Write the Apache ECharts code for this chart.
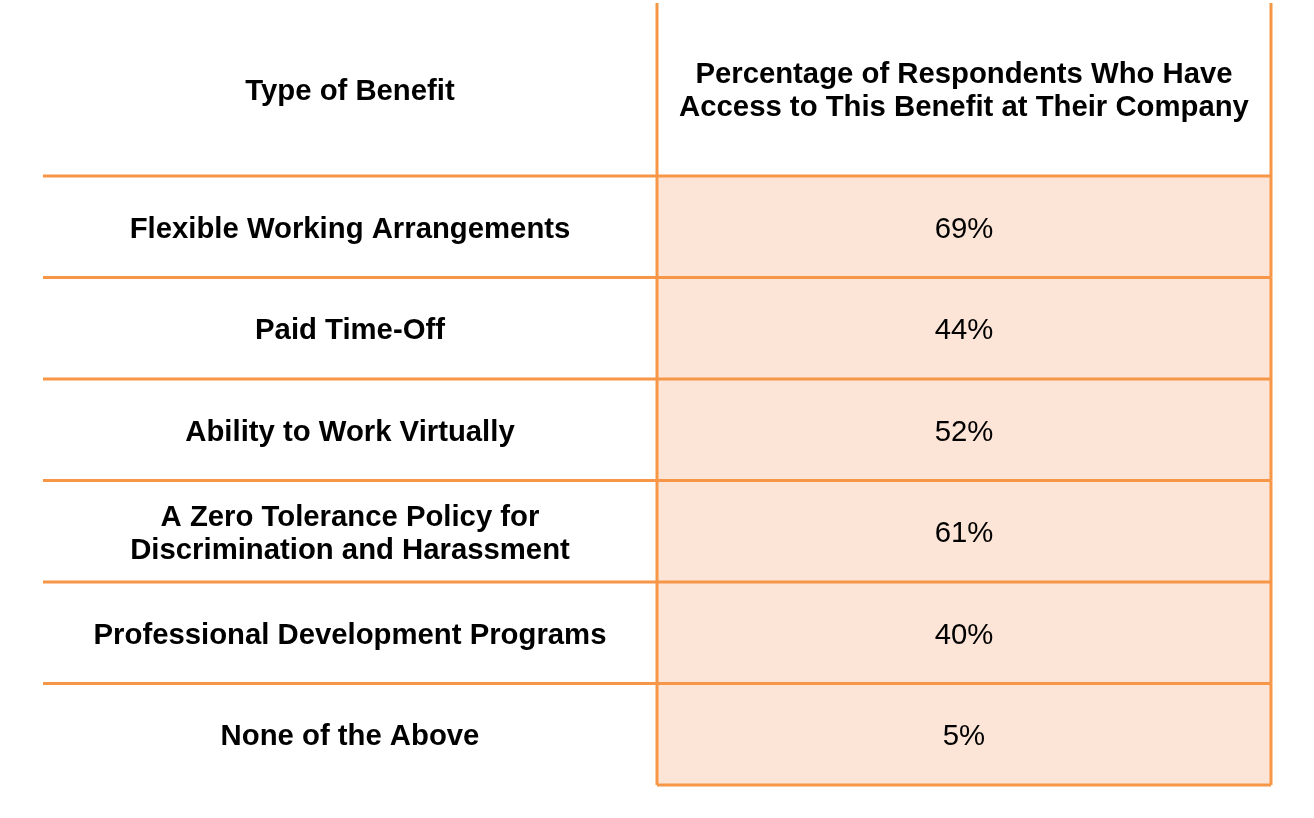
<!DOCTYPE html>
<html>
<head>
<meta charset="utf-8">
<title>Benefits table</title>
<script src="https://cdn.jsdelivr.net/npm/echarts@6/dist/echarts.min.js"></script>
<style>
  html, body { margin: 0; padding: 0; background: #ffffff; }
  #chart { width: 1314px; height: 818px; }
</style>
</head>
<body>
<div id="chart"></div>
<script>
const columns = ['benefit', 'share'];
const headers = [
    'Type of Benefit',
    'Percentage of Respondents Who Have\nAccess to This Benefit at Their Company'
];
const benefits = [
    'Flexible Working Arrangements',
    'Paid Time-Off',
    'Ability to Work Virtually',
    'A Zero Tolerance Policy for\nDiscrimination and Harassment',
    'Professional Development Programs',
    'None of the Above'
];
const shares = [69, 44, 52, 61, 40, 5];

const ORANGE = '#F79646';
const PEACH = '#FCE4D6';
const FONT = '"Liberation Sans", Arial, Helvetica, sans-serif';

const chart = echarts.init(document.getElementById('chart'));

function line(x1, y1, x2, y2) {
    return {
        type: 'line',
        shape: { x1: x1, y1: y1, x2: x2, y2: y2 },
        style: { stroke: ORANGE, lineWidth: 3 },
        z2: 10
    };
}

function cellText(text, x, y, bold) {
    return {
        type: 'text',
        z2: 20,
        style: {
            text: text,
            x: x,
            y: y,
            align: 'center',
            verticalAlign: 'middle',
            fontFamily: FONT,
            fontSize: 29.3,
            fontWeight: bold ? 'bold' : 'normal',
            lineHeight: 33,
            fill: '#000000'
        }
    };
}

// header row: right cell has side borders only
function renderHeader(params, api) {
    const col = api.value(0);
    const c = api.coord([col, api.value(1)]);
    const s = api.size([1, 1]);
    const x0 = c[0] - s[0] / 2, y0 = c[1] - s[1] / 2;
    const children = [cellText(api.value(2), c[0], c[1] + 2, true)];
    if (col === 1) {
        children.push(line(x0, y0, x0, y0 + s[1]));
        children.push(line(x0 + s[0], y0, x0 + s[0], y0 + s[1]));
    }
    return { type: 'group', children: children };
}

// body rows
function renderBody(params, api) {
    const col = api.value(0);
    const row = api.value(1);
    const c = api.coord([col, row]);
    const s = api.size([1, 1]);
    const x0 = c[0] - s[0] / 2, y0 = c[1] - s[1] / 2;
    const x1 = x0 + s[0], y1 = y0 + s[1];
    const children = [{
        type: 'rect',
        shape: { x: x0, y: y0, width: s[0], height: s[1] },
        style: { fill: col === 1 ? PEACH : '#ffffff' }
    }];
    if (row === 0) children.push(line(x0, y0, x1, y0));
    if (col === 1 || row < benefits.length - 1) children.push(line(x0, y1, x1, y1));
    if (col === 1) {
        children.push(line(x0, y0, x0, y1));
        children.push(line(x1, y0, x1, y1));
    }
    children.push(cellText(api.value(2), c[0], c[1] + 3, col === 0));
    return { type: 'group', children: children };
}

const headerData = headers.map(function (h, i) { return [i, 0, h]; });
const bodyData = [];
benefits.forEach(function (b, i) {
    bodyData.push([0, i, b]);
    bodyData.push([1, i, shares[i] + '%']);
});

const option = {
    backgroundColor: '#ffffff',
    animation: false,
    grid: [
        { left: 43, right: 43, top: 3, height: 173 },
        { left: 43, right: 43, top: 176, bottom: 33 }
    ],
    xAxis: [
        { type: 'category', data: columns, gridIndex: 0, show: false },
        { type: 'category', data: columns, gridIndex: 1, show: false }
    ],
    yAxis: [
        { type: 'category', data: ['header'], gridIndex: 0, show: false },
        { type: 'category', data: benefits, gridIndex: 1, inverse: true, show: false }
    ],
    series: [
        {
            type: 'custom',
            xAxisIndex: 0,
            yAxisIndex: 0,
            renderItem: renderHeader,
            data: headerData,
            encode: { x: 0, y: 1 },
            silent: true
        },
        {
            type: 'custom',
            xAxisIndex: 1,
            yAxisIndex: 1,
            renderItem: renderBody,
            data: bodyData,
            encode: { x: 0, y: 1 },
            silent: true
        }
    ]
};

chart.setOption(option);
</script>
</body>
</html>
